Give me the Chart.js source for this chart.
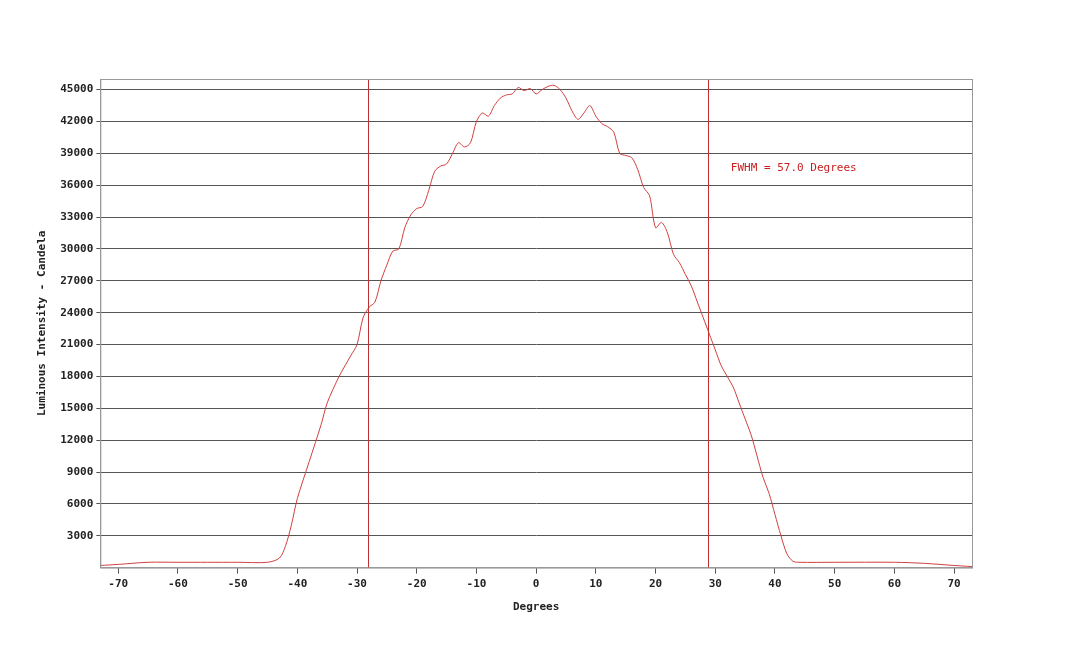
<!DOCTYPE html>
<html>
<head>
<meta charset="utf-8">
<script src="https://cdn.jsdelivr.net/npm/chart.js@4/dist/chart.umd.min.js"></script>
<style>
  html, body { margin: 0; padding: 0; background: #fff; }
  #wrap { width: 1080px; height: 646px; }
</style>
</head>
<body>
<div id="wrap"><canvas id="beamChart" width="1080" height="646"></canvas></div>
<script>
const degrees = [-73,-70,-65,-60,-55,-50,-45,-43,-42,-41,-40,-38,-36,-35,-33,-31,-30,-29,-28,-27,-26,-25,-24,-23,-22,-21,-20,-19,-18,-17,-16,-15,-14,-13,-12,-11,-10,-9,-8,-7,-6,-5,-4,-3,-2,-1,0,1,2,3,4,5,6,7,8,9,10,11,12,13,14,15,16,17,18,19,20,21,22,23,24,25,26,27,28,29,30,31,32,33,34,35,36,37,38,39,40,41,42,43,44,50,60,65,70,73];
const intensity = [200,300,500,500,500,500,500,900,2000,4000,6500,10000,13500,15500,18000,20000,21000,23500,24500,25000,27000,28500,29800,30000,32000,33200,33800,34000,35500,37300,37800,38000,39000,40000,39600,40000,42000,42800,42500,43500,44200,44500,44600,45200,44900,45100,44600,45000,45300,45400,45000,44200,43000,42200,42800,43500,42500,41800,41500,41000,39000,38800,38600,37500,35800,35000,32000,32500,31500,29500,28700,27600,26500,25000,23500,22000,20500,19000,18000,17000,15500,14000,12500,10500,8500,7000,5000,3000,1300,600,500,500,500,400,200,100];
const xTicks = [-70,-60,-50,-40,-30,-20,-10,0,10,20,30,40,50,60,70];
const yTicks = [3000,6000,9000,12000,15000,18000,21000,24000,27000,30000,33000,36000,39000,42000,45000];
const fwhmEdges = [-28.2, 28.8];
const fwhmLabel = 'FWHM = 57.0 Degrees';
const fwhmLabelPos = [32.6, 37600];

const red = '#d04040';
const monoFont = { family: 'DejaVu Sans Mono', size: 11, weight: 'bold' };

const fwhmPlugin = {
    id: 'fwhm',
    afterDatasetsDraw(chart) {
        const { ctx, chartArea, scales } = chart;
        ctx.save();
        ctx.strokeStyle = '#c03030';
        ctx.lineWidth = 1;
        fwhmEdges.forEach(d => {
            const x = Math.round(scales.x.getPixelForValue(d)) + 0.5;
            ctx.beginPath();
            ctx.moveTo(x, chartArea.top);
            ctx.lineTo(x, chartArea.bottom);
            ctx.stroke();
        });
        ctx.fillStyle = '#c82020';
        ctx.font = '11px "DejaVu Sans Mono"';
        ctx.textBaseline = 'middle';
        ctx.fillText(fwhmLabel, scales.x.getPixelForValue(fwhmLabelPos[0]), scales.y.getPixelForValue(fwhmLabelPos[1]));
        ctx.strokeStyle = '#999';
        ctx.strokeRect(chartArea.left + 0.5, chartArea.top + 0.5, chartArea.width, chartArea.height);
        ctx.restore();
    }
};

new Chart(document.getElementById('beamChart'), {
    type: 'line',
    data: {
        datasets: [{
            data: degrees.map((d, i) => ({ x: d, y: intensity[i] })),
            borderColor: red,
            borderWidth: 1,
            pointRadius: 0,
            tension: 0.3,
            fill: false
        }]
    },
    options: {
        responsive: false,
        animation: false,
        layout: { padding: { left: 32, top: 79, right: 108, bottom: 28 } },
        plugins: { legend: { display: false }, tooltip: { enabled: false } },
        scales: {
            x: {
                type: 'linear',
                min: -73,
                max: 73,
                afterBuildTicks: axis => { axis.ticks = xTicks.map(v => ({ value: v })); },
                grid: { display: true, drawOnChartArea: false, drawTicks: true, tickLength: 6, color: '#555' },
                border: { color: '#999' },
                ticks: { color: '#222', font: monoFont, maxRotation: 0, padding: 4, callback: v => String(v) },
                title: { display: true, text: 'Degrees', color: '#222', font: monoFont, padding: { top: 6 } }
            },
            y: {
                min: 0,
                max: 46000,
                afterBuildTicks: axis => { axis.ticks = yTicks.map(v => ({ value: v })); },
                grid: { color: '#555', lineWidth: 1, tickLength: 4 },
                border: { color: '#999' },
                ticks: { color: '#222', font: monoFont, padding: 3, callback: v => String(v) },
                title: { display: true, text: 'Luminous Intensity - Candela', color: '#222', font: monoFont, padding: { bottom: 8 } }
            }
        }
    },
    plugins: [fwhmPlugin]
});
</script>
</body>
</html>
